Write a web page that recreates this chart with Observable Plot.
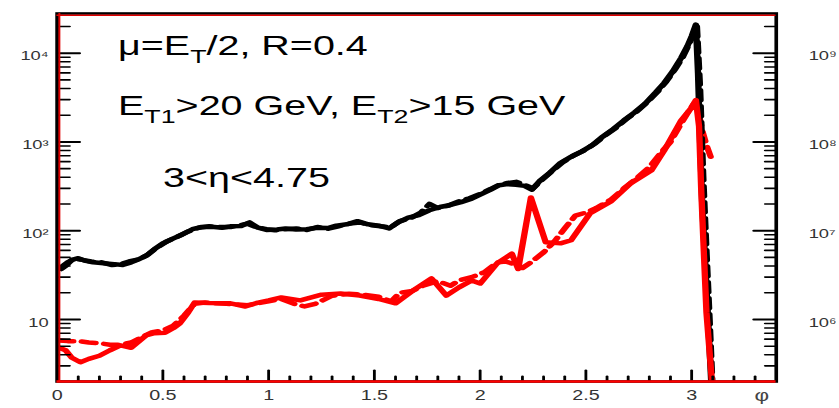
<!DOCTYPE html>
<html><head><meta charset="utf-8">
<script src="https://cdn.jsdelivr.net/npm/d3@7"></script>
<script src="https://cdn.jsdelivr.net/npm/@observablehq/plot@0.6"></script>
<style>
body{margin:0;background:#fff;}
#chart svg{display:block}
</style>
</head><body><div id="chart"></div><script>
// ---- data: [phi, dsigma] ----
const blackSolid = [[0.02,37],[0.04,40],[0.07,47],[0.10,49],[0.13,46],[0.17,44],[0.22,43],[0.27,42],[0.31,41],[0.35,44],[0.38,47],[0.42,52],[0.46,62],[0.50,72],[0.55,82],[0.59,90],[0.64,104],[0.68,110],[0.73,111],[0.78,108],[0.82,112],[0.87,113],[0.91,124],[0.95,108],[0.99,102],[1.04,103],[1.08,106],[1.13,103],[1.18,104],[1.23,108],[1.28,107],[1.32,114],[1.37,118],[1.42,128],[1.47,118],[1.52,114],[1.57,106],[1.61,123],[1.66,140],[1.71,150],[1.76,170],[1.81,185],[1.86,195],[1.91,210],[1.96,230],[2.01,262],[2.05,290],[2.09,325],[2.13,335],[2.17,330],[2.21,320],[2.245,290],[2.28,360],[2.33,450],[2.38,580],[2.43,680],[2.48,780],[2.53,920],[2.58,1150],[2.63,1400],[2.68,1750],[2.73,2150],[2.78,2700],[2.83,3600],[2.87,4600],[2.91,6200],[2.95,8800],[2.98,12000],[3.00,15500],[3.02,21000],[3.03,6000],[3.04,1000],[3.05,200],[3.065,40],[3.08,8],[3.095,1.5]];
const blackDashed = [[0.02,39],[0.05,44],[0.08,48],[0.12,47],[0.16,45],[0.21,44],[0.26,41],[0.30,42],[0.34,45],[0.39,48],[0.43,54],[0.47,64],[0.52,76],[0.57,86],[0.62,98],[0.67,108],[0.72,112],[0.77,110],[0.82,110],[0.86,115],[0.90,120],[0.94,110],[0.99,104],[1.03,101],[1.08,104],[1.13,106],[1.18,102],[1.23,110],[1.28,105],[1.33,112],[1.38,120],[1.43,124],[1.48,116],[1.53,112],[1.58,110],[1.62,128],[1.67,138],[1.72,160],[1.76,200],[1.80,180],[1.85,192],[1.90,215],[1.95,232],[2.00,260],[2.05,295],[2.09,330],[2.13,345],[2.17,355],[2.21,330],[2.25,300],[2.29,370],[2.34,470],[2.39,590],[2.44,700],[2.49,800],[2.54,950],[2.59,1180],[2.64,1430],[2.69,1800],[2.74,2200],[2.79,2800],[2.84,3700],[2.88,4800],[2.92,6500],[2.96,9200],[2.99,13000],[3.01,17000],[3.025,20000],[3.04,4000],[3.055,400],[3.07,60],[3.085,10],[3.10,1.5]];
const redSolid = [[0.01,4.8],[0.04,4.5],[0.07,3.7],[0.11,3.3],[0.15,3.6],[0.20,3.9],[0.25,4.5],[0.30,5.1],[0.35,4.8],[0.38,5.5],[0.42,6.6],[0.46,7.0],[0.51,7.1],[0.55,8.0],[0.58,9.0],[0.62,12],[0.65,15.5],[0.72,15.3],[0.82,15.2],[0.89,14],[0.95,15.5],[1.00,16.4],[1.06,17.7],[1.15,16.4],[1.25,19],[1.34,19.6],[1.43,18.6],[1.52,17],[1.60,15.2],[1.68,21],[1.77,29],[1.84,18.6],[1.90,23],[1.96,27.5],[2.00,25.4],[2.08,42.8],[2.15,55],[2.18,37],[2.24,237],[2.31,74],[2.38,72],[2.43,78],[2.52,157],[2.62,215],[2.71,340],[2.81,480],[2.87,800],[2.95,1740],[3.00,2440],[3.02,2970],[3.035,1500],[3.045,300],[3.055,80],[3.07,12],[3.10,1.5]];
const redDashed = [[0.01,5.8],[0.05,5.7],[0.10,5.7],[0.15,5.5],[0.20,5.4],[0.25,5.2],[0.30,5.2],[0.35,5.5],[0.40,6.3],[0.45,7.2],[0.50,7.5],[0.55,8.5],[0.60,11],[0.65,15],[0.70,15.5],[0.80,15],[0.90,14.5],[1.00,16],[1.06,17],[1.12,15],[1.17,14],[1.22,15],[1.30,18.5],[1.38,19.5],[1.45,19],[1.52,18],[1.58,16],[1.62,20],[1.68,21],[1.73,24],[1.80,27],[1.86,24],[1.90,27.5],[1.96,30],[2.02,34],[2.08,44],[2.12,45],[2.16,42],[2.20,38],[2.24,44],[2.30,57],[2.35,75],[2.40,106],[2.45,148],[2.50,160],[2.55,180],[2.62,225],[2.68,300],[2.74,390],[2.80,520],[2.86,780],[2.90,1000],[2.95,1600],[2.98,2100],[3.01,2700],[3.03,2300],[3.05,1350],[3.07,920],[3.09,680]];

// ---- ticks & labels ----
const xMajor = [0, 0.5, 1, 1.5, 2, 2.5, 3];
const xMinor = [0.1,0.2,0.3,0.4,0.6,0.7,0.8,0.9,1.1,1.2,1.3,1.4,1.6,1.7,1.8,1.9,2.1,2.2,2.3,2.4,2.6,2.7,2.8,2.9,3.1,3.2,3.3];
const xLabels = ["0", "0.5", "1", "1.5", "2", "2.5", "3"];
const yMajor = [10, 100, 1000, 10000];
const yMinor = [2,3,4,5,6,7,8,9,20,30,40,50,60,70,80,90,200,300,400,500,600,700,800,900,2000,3000,4000,5000,6000,7000,8000,9000,20000];
const yLabelsLeft = ["10", "10²", "10³", "10⁴"];
const yLabelsRight = ["10⁶", "10⁷", "10⁸", "10⁹"];
const axisName = "φ";
const noteLines = [
  [["μ=E",0],["T",1],["/2, R=0.4",0]],
  [["E",0],["T1",1],[">20 GeV, E",0],["T2",1],[">15 GeV",0]],
  [["3<η<4.75",0]]
];

const W = 595, H = 408;
const mL = 40, mR = 45, mT = 13, mB = 27;
const xDom = [0, 3.4], yDom = [2, 28000];
const innerW = W - mL - mR, innerH = H - mT - mB;
const xPerPx = (xDom[1] - xDom[0]) / innerW;
const decadePx = innerH / Math.log10(yDom[1] / yDom[0]);

// tick segments (inward), built from tick values and tick lengths in pixels
let tid = 0;
const seg = [];
const addBottom = (vals, len, w) => vals.forEach(v => { tid++; seg.push({x: v, y: yDom[0], id: tid, w}, {x: v, y: yDom[0] * 10 ** (len / decadePx), id: tid, w}); });
const addLeft = (vals, len, w) => vals.forEach(v => { tid++; seg.push({x: xDom[0], y: v, id: tid, w}, {x: xDom[0] + len * xPerPx, y: v, id: tid, w}); });
const addRight = (vals, len, w) => vals.forEach(v => { tid++; seg.push({x: xDom[1] - len * xPerPx, y: v, id: tid, w}, {x: xDom[1], y: v, id: tid, w}); });
addBottom(xMajor, 11, 2); addBottom(xMinor, 5, 2);
addLeft(yMajor, 16, 2); addLeft(yMinor, 9, 1.6);
addRight(yMajor, 16, 2); addRight(yMinor, 8, 1.6);
const segMajor = seg.filter(d => d.w === 2), segMinor = seg.filter(d => d.w !== 2);

const line = (data, o) => Plot.line(data, {x: d => d[0], y: d => d[1], clip: true, strokeLinejoin: "round", ...o});

const plot = Plot.plot({
  width: W, height: H,
  marginLeft: mL, marginRight: mR, marginTop: mT, marginBottom: mB,
  x: {domain: xDom},
  y: {type: "log", domain: yDom},
  style: {fontFamily: "'Liberation Sans', Arial, sans-serif", fontSize: "14px"},
  marks: [
    Plot.axisX(xMajor, {anchor: "bottom", tickSize: 0, tickPadding: 9, tickFormat: d => xLabels[xMajor.indexOf(d)], label: null, fontSize: 14, fill: "#333"}),
    Plot.axisY(yMajor, {anchor: "left", tickSize: 0, tickPadding: 6, dy: 3, tickFormat: d => yLabelsLeft[yMajor.indexOf(d)], label: null, fontSize: 13, fill: "#333"}),
    Plot.axisY(yMajor, {anchor: "right", tickSize: 0, tickPadding: 23, dy: 3, tickFormat: d => yLabelsRight[yMajor.indexOf(d)], label: null, fontSize: 13, fill: "#333"}),
    line(redDashed, {stroke: "#ff0000", strokeWidth: 4.5, strokeDasharray: "10,6"}),
    line(blackDashed, {stroke: "black", strokeWidth: 4.5, strokeDasharray: "10,6"}),
    line(blackSolid, {stroke: "black", strokeWidth: 4.5}),
    line(redSolid, {stroke: "#ff0000", strokeWidth: 4.5}),
    Plot.line(segMajor, {x: "x", y: "y", z: "id", stroke: "black", strokeWidth: 2, clip: true}),
    Plot.line(segMinor, {x: "x", y: "y", z: "id", stroke: "black", strokeWidth: 1.6, clip: true}),
    Plot.frame({stroke: "black", strokeWidth: 2.6}),
    Plot.ruleX([0], {stroke: "#e00000", strokeWidth: 1.4, dx: 1.6}),
    Plot.ruleY([28000], {stroke: "#e00000", strokeWidth: 1.4, dy: 1.8}),
    Plot.ruleY([2], {stroke: "#ff0000", strokeWidth: 2.4}),
    Plot.text([axisName], {frameAnchor: "bottom-right", dx: -5, dy: 19, fontSize: 16, fill: "#444"})
  ]
});

// stretch horizontally like the reference
plot.setAttribute("width", 839);
plot.setAttribute("preserveAspectRatio", "none");
plot.style.width = "839px";
plot.style.height = "408px";
plot.style.maxWidth = "none";

// annotations with subscripts
const svg = d3.select(plot);
const notePos = [[83.7, 55], [83.7, 115], [115.6, 187]];
const g = svg.append("g")
  .attr("font-family", "'Liberation Sans', Arial, sans-serif")
  .attr("text-anchor", "start")
  .attr("fill", "#000");
noteLines.forEach((segs, k) => {
  const t = g.append("text").attr("x", notePos[k][0]).attr("y", notePos[k][1]).attr("font-size", 28).attr("text-anchor", "start");
  let sub = 0;
  segs.forEach(([s, isSub]) => {
    const ts = t.append("tspan").text(s);
    if (isSub && !sub) { ts.attr("font-size", 19).attr("dy", 8); sub = 1; }
    else if (!isSub && sub) { ts.attr("dy", -8); sub = 0; }
    else if (isSub) ts.attr("font-size", 19);
  });
});

document.getElementById("chart").appendChild(plot);
</script></body></html>
